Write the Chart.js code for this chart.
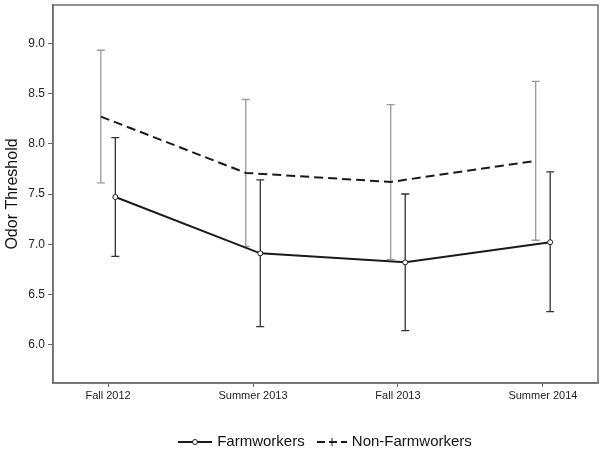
<!DOCTYPE html>
<html>
<head>
<meta charset="utf-8">
<script src="https://cdn.jsdelivr.net/npm/chart.js@4.4.0/dist/chart.umd.min.js"></script>
<style>
  html, body { margin: 0; padding: 0; background: #fff; }
  #wrap { position: relative; width: 604px; height: 451px; }
  #legend {
    position: absolute; left: 46px; right: 0; top: 430px;
    text-align: center; font-family: "Liberation Sans", Arial, sans-serif;
    font-size: 15px; color: #111; white-space: nowrap;
  }
  #legend span.item { display: inline-block; vertical-align: middle; margin: 0 4px; }
  #legend svg { vertical-align: middle; margin-right: 5px; }
</style>
</head>
<body>
<div id="wrap">
  <canvas id="chart" width="604" height="451"></canvas>
  <div id="legend">
    <span class="item"><svg width="34" height="12"><line x1="0" y1="6" x2="34" y2="6" stroke="#1a1a1a" stroke-width="2"/><circle cx="17" cy="6" r="2.5" fill="#fff" stroke="#1a1a1a" stroke-width="1"/></svg>Farmworkers</span>
    <span class="item"><svg width="30" height="12"><line x1="0" y1="6" x2="30" y2="6" stroke="#1a1a1a" stroke-width="2" stroke-dasharray="8,4"/><line x1="15" y1="2" x2="15" y2="10" stroke="#1a1a1a" stroke-width="1"/></svg>Non-Farmworkers</span>
  </div>
</div>
<script>
const categories = ['Fall 2012', 'Summer 2013', 'Fall 2013', 'Summer 2014'];

const farmMean = [7.47, 6.91, 6.82, 7.02];
const farmUpper = [8.06, 7.64, 7.50, 7.72];
const farmLower = [6.88, 6.18, 6.14, 6.33];

const nonFarmMean = [8.27, 7.71, 7.62, 7.83];
const nonFarmUpper = [8.93, 8.44, 8.39, 8.62];
const nonFarmLower = [7.61, 6.98, 6.85, 7.04];

const yTicks = [6.0, 6.5, 7.0, 7.5, 8.0, 8.5, 9.0];

// small horizontal dodge so the two groups don't overlap
const dodge = 0.05;

const farmPoints = farmMean.map((v, i) => ({ x: i + dodge, y: v }));
const nonFarmPoints = nonFarmMean.map((v, i) => ({ x: i - dodge, y: v }));

const errorBars = {
    id: 'errorBars',
    beforeDatasetsDraw(chart) {
        const ctx = chart.ctx;
        const xs = chart.scales.x, ys = chart.scales.y;
        const groups = [
            { off: -dodge, hi: nonFarmUpper, lo: nonFarmLower, color: '#9a9a9a' },
            { off: dodge, hi: farmUpper, lo: farmLower, color: '#333' }
        ];
        ctx.save();
        ctx.lineWidth = 1.3;
        groups.forEach(g => {
            ctx.strokeStyle = g.color;
            g.hi.forEach((hi, i) => {
                const x = xs.getPixelForValue(i + g.off);
                const yTop = ys.getPixelForValue(hi);
                const yBot = ys.getPixelForValue(g.lo[i]);
                ctx.beginPath();
                ctx.moveTo(x, yTop); ctx.lineTo(x, yBot);
                ctx.moveTo(x - 4, yTop); ctx.lineTo(x + 4, yTop);
                ctx.moveTo(x - 4, yBot); ctx.lineTo(x + 4, yBot);
                ctx.stroke();
            });
        });
        ctx.restore();
    },
    afterDraw(chart) {
        // frame round the plot
        const a = chart.chartArea, ctx = chart.ctx;
        ctx.save();
        ctx.strokeStyle = '#6e6e6e';
        ctx.lineWidth = 1.5;
        ctx.strokeRect(a.left, a.top, a.right - a.left, a.bottom - a.top);
        ctx.restore();
    }
};

new Chart(document.getElementById('chart').getContext('2d'), {
    type: 'line',
    data: {
        datasets: [
            {
                label: 'Farmworkers',
                data: farmPoints,
                borderColor: '#1a1a1a',
                borderWidth: 2,
                pointRadius: 2.5,
                pointBackgroundColor: '#fff',
                pointBorderColor: '#1a1a1a',
                pointBorderWidth: 1,
                tension: 0
            },
            {
                label: 'Non-Farmworkers',
                data: nonFarmPoints,
                borderColor: '#1a1a1a',
                borderWidth: 2,
                borderDash: [9, 5],
                pointRadius: 0,
                tension: 0
            }
        ]
    },
    options: {
        responsive: false,
        animation: false,
        layout: { padding: { top: 5, right: 6, bottom: 43, left: 0 } },
        plugins: {
            legend: { display: false },
            tooltip: { enabled: false }
        },
        scales: {
            x: {
                type: 'linear',
                min: -0.38,
                max: 3.38,
                afterBuildTicks: s => { s.ticks = categories.map((c, i) => ({ value: i })); },
                afterFit: s => { s.height = 25; s.paddingLeft = 0; s.paddingRight = 0; },
                grid: { display: true, drawOnChartArea: false, drawTicks: true, tickLength: 4, color: '#666' },
                border: { display: true, color: '#6e6e6e', width: 1.5 },
                ticks: {
                    padding: 2,
                    color: '#222',
                    font: { family: '"Liberation Sans", Arial, sans-serif', size: 11 },
                    callback: v => categories[v] ?? ''
                }
            },
            y: {
                min: 5.62,
                max: 9.38,
                afterBuildTicks: s => { s.ticks = yTicks.map(v => ({ value: v })); },
                afterFit: s => { s.width = 53; s.paddingTop = 0; s.paddingBottom = 0; },
                grid: { display: true, drawOnChartArea: false, drawTicks: true, tickLength: 5, color: '#666' },
                border: { display: true, color: '#6e6e6e', width: 1.5 },
                title: {
                    display: true,
                    text: 'Odor Threshold',
                    color: '#111',
                    padding: { top: 3, bottom: 0 },
                    font: { family: '"Liberation Sans", Arial, sans-serif', size: 16 }
                },
                ticks: {
                    padding: 3,
                    color: '#222',
                    font: { family: '"Liberation Sans", Arial, sans-serif', size: 12 },
                    callback: v => Number(v).toFixed(1)
                }
            }
        }
    },
    plugins: [errorBars]
});
</script>
</body>
</html>
